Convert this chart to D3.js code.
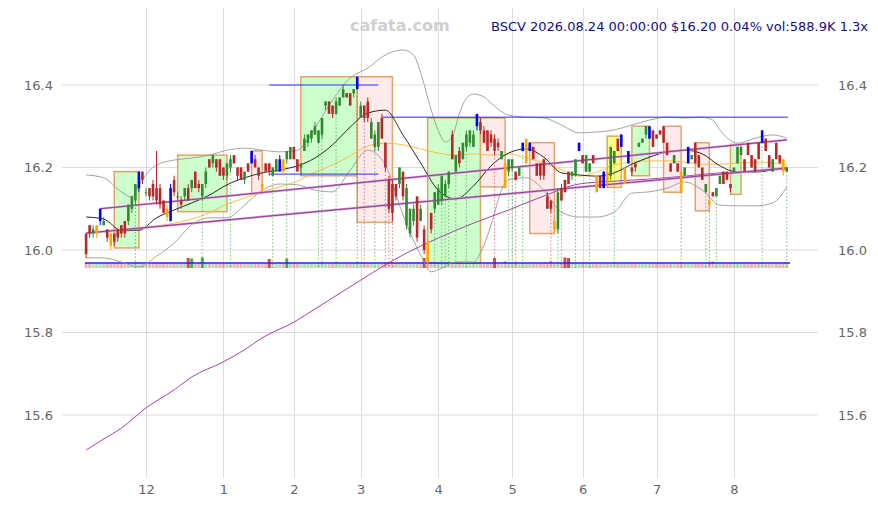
<!DOCTYPE html>
<html><head><meta charset="utf-8">
<script src="https://cdn.jsdelivr.net/npm/d3@7"></script>
<style>body{margin:0;background:#fff}svg{display:block}</style>
</head><body><svg id="c" width="878" height="505"></svg>
<script>
// ---- DATA ----
const open = [16.04,16.06,16.04,16.04,16.07,16.06,16.05,16.04,16.04,16.05,16.06,16.07,16.07,16.10,16.12,16.15,16.19,16.14,16.15,16.16,
16.15,16.15,16.12,16.10,16.07,16.17,16.13,16.12,16.13,16.15,16.15,16.19,16.16,16.13,16.16,16.22,16.21,16.22,16.22,16.20,
16.18,16.20,16.23,16.20,16.20,16.17,16.21,16.21,16.22,16.20,16.16,16.21,16.21,16.18,16.19,16.19,16.22,16.22,16.22,16.25,
16.22,16.20,16.24,16.26,16.27,16.28,16.26,16.28,16.35,16.36,16.35,16.33,16.35,16.37,16.38,16.38,16.38,16.39,16.32,16.35,
16.36,16.27,16.25,16.25,16.32,16.26,16.17,16.16,16.16,16.16,16.19,16.06,16.04,16.07,16.13,16.07,16.05,16.02,16.09,16.10,
16.11,16.12,16.13,16.16,16.28,16.19,16.24,16.22,16.25,16.26,16.25,16.30,16.31,16.29,16.29,16.28,16.27,16.26,16.22,16.21,
16.19,16.20,16.19,16.18,16.24,16.27,16.24,16.25,16.21,16.21,16.22,16.13,16.12,16.07,16.05,16.15,16.17,16.19,16.18,16.18,
16.24,16.23,16.19,16.19,16.23,16.18,16.18,16.15,16.19,16.18,16.21,16.27,16.25,16.20,16.21,16.20,16.21,16.25,16.26,16.28,
16.27,16.29,16.28,16.29,16.30,16.26,16.21,16.21,16.21,16.19,16.18,16.21,16.22,16.26,16.23,16.20,16.14,16.12,16.14,16.13,
16.16,16.19,16.19,16.16,16.19,16.21,16.23,16.22,16.26,16.23,16.22,16.26,16.26,16.27,16.23,16.19,16.26,16.23,16.22,16.19];
const high = [16.04,16.06,16.06,16.06,16.10,16.08,16.05,16.04,16.04,16.05,16.06,16.07,16.11,16.13,16.16,16.19,16.19,16.15,16.15,16.17,
16.24,16.16,16.12,16.11,16.16,16.18,16.14,16.13,16.15,16.16,16.17,16.19,16.17,16.16,16.20,16.22,16.23,16.22,16.22,16.20,
16.21,16.23,16.23,16.20,16.20,16.19,16.21,16.24,16.23,16.20,16.16,16.21,16.21,16.20,16.22,16.23,16.22,16.24,16.25,16.25,
16.22,16.21,16.28,16.28,16.29,16.31,16.29,16.32,16.36,16.36,16.35,16.37,16.37,16.40,16.38,16.38,16.39,16.42,16.36,16.35,
16.37,16.32,16.29,16.31,16.33,16.26,16.18,16.17,16.16,16.20,16.19,16.16,16.10,16.11,16.13,16.11,16.06,16.02,16.09,16.14,
16.16,16.18,16.17,16.19,16.29,16.23,16.25,16.26,16.29,16.29,16.29,16.33,16.32,16.30,16.29,16.29,16.28,16.27,16.24,16.22,
16.22,16.22,16.19,16.20,16.26,16.27,16.26,16.25,16.21,16.21,16.22,16.14,16.12,16.07,16.15,16.16,16.17,16.19,16.19,16.22,
16.26,16.23,16.23,16.21,16.23,16.18,16.18,16.19,16.19,16.25,16.24,16.27,16.28,16.20,16.24,16.20,16.21,16.26,16.27,16.30,
16.30,16.29,16.28,16.29,16.30,16.26,16.21,16.23,16.21,16.19,16.20,16.25,16.23,16.26,16.23,16.20,16.16,16.12,16.14,16.15,
16.18,16.19,16.19,16.16,16.20,16.25,16.25,16.22,16.26,16.23,16.22,16.26,16.29,16.27,16.23,16.22,16.26,16.23,16.22,16.20];
const low = [15.98,16.03,16.03,16.03,16.06,16.06,16.02,16.00,16.01,16.02,16.03,16.03,16.06,16.09,16.11,16.14,16.16,16.13,16.12,16.12,
16.11,16.10,16.09,16.07,16.07,16.13,16.12,16.10,16.12,16.12,16.14,16.15,16.14,16.12,16.15,16.20,16.20,16.19,16.18,16.17,
16.17,16.19,16.21,16.17,16.17,16.16,16.19,16.21,16.20,16.17,16.14,16.19,16.18,16.18,16.19,16.19,16.18,16.21,16.22,16.22,
16.19,16.18,16.24,16.25,16.26,16.28,16.26,16.27,16.34,16.33,16.32,16.33,16.35,16.37,16.37,16.35,16.37,16.39,16.32,16.31,
16.31,16.27,16.24,16.24,16.27,16.19,16.09,16.07,16.12,16.15,16.12,16.05,16.03,16.06,16.02,16.07,15.99,15.96,16.04,16.09,
16.11,16.11,16.13,16.15,16.22,16.19,16.20,16.22,16.24,16.25,16.25,16.29,16.28,16.26,16.24,16.25,16.23,16.24,16.22,16.15,
16.18,16.19,16.17,16.18,16.24,16.21,16.24,16.22,16.18,16.17,16.17,16.10,16.09,16.04,16.04,16.12,16.14,16.16,16.17,16.18,
16.24,16.21,16.19,16.19,16.21,16.14,16.15,16.15,16.15,16.17,16.21,16.24,16.25,16.16,16.21,16.18,16.19,16.25,16.26,16.27,
16.27,16.25,16.27,16.28,16.26,16.23,16.19,16.21,16.19,16.14,16.18,16.21,16.22,16.21,16.20,16.17,16.14,16.09,16.13,16.13,
16.16,16.16,16.17,16.14,16.19,16.21,16.23,16.19,16.23,16.20,16.19,16.22,16.26,16.24,16.20,16.19,16.22,16.21,16.18,16.19];
const close = [15.99,16.04,16.05,16.06,16.10,16.07,16.03,16.01,16.02,16.03,16.04,16.04,16.11,16.13,16.16,16.19,16.17,16.14,16.13,16.13,
16.12,16.11,16.09,16.08,16.15,16.14,16.13,16.11,16.15,16.12,16.17,16.15,16.15,16.16,16.19,16.20,16.23,16.20,16.18,16.18,
16.21,16.22,16.21,16.18,16.17,16.19,16.19,16.24,16.20,16.18,16.15,16.19,16.19,16.20,16.22,16.22,16.19,16.24,16.25,16.22,
16.19,16.21,16.27,16.28,16.29,16.30,16.29,16.32,16.36,16.33,16.33,16.36,16.37,16.39,16.37,16.35,16.39,16.42,16.35,16.32,
16.32,16.31,16.28,16.31,16.27,16.20,16.10,16.09,16.13,16.20,16.13,16.15,16.10,16.10,16.03,16.10,16.00,15.97,16.05,16.14,
16.15,16.18,16.16,16.19,16.22,16.23,16.21,16.26,16.28,16.29,16.28,16.33,16.29,16.26,16.24,16.26,16.24,16.25,16.24,16.15,
16.22,16.22,16.17,16.20,16.26,16.21,16.26,16.22,16.18,16.18,16.18,16.10,16.10,16.05,16.14,16.12,16.14,16.16,16.19,16.22,
16.26,16.21,16.23,16.21,16.21,16.14,16.15,16.19,16.16,16.25,16.24,16.24,16.28,16.16,16.24,16.19,16.20,16.26,16.27,16.30,
16.30,16.25,16.27,16.28,16.26,16.23,16.19,16.23,16.19,16.14,16.20,16.25,16.23,16.21,16.20,16.17,16.16,16.11,16.13,16.15,
16.18,16.16,16.17,16.15,16.20,16.25,16.25,16.19,16.23,16.20,16.19,16.22,16.29,16.24,16.20,16.22,16.22,16.21,16.19,16.20];
const volume = [520,430,380,460,500,410,450,390,470,420,480,440,510,460,600,530,420,380,450,470,
490,430,460,520,480,410,390,440,460,1000,950,420,460,1050,500,440,410,450,430,400,
460,560,420,390,450,430,470,480,420,410,440,460,900,520,430,480,450,950,470,430,
440,420,480,450,470,430,560,540,420,440,460,530,450,420,410,460,430,580,470,520,
480,440,560,430,470,600,620,590,450,470,430,480,440,520,470,450,1000,640,460,540,
480,560,520,540,430,560,470,440,520,460,480,440,420,460,430,470,1000,450,430,700,
520,540,560,430,510,440,430,420,450,470,460,440,750,430,520,540,1050,1000,440,520,
430,460,440,540,420,450,470,430,460,480,550,440,430,460,470,420,450,440,430,460,
450,430,420,470,440,460,430,420,450,560,440,430,420,460,450,440,540,560,700,540,
430,450,440,460,420,440,430,450,420,460,440,430,560,450,430,420,460,440,450,540];
const orangeDays = [3,7,23,50,56,97,119,125,133,145,148,153,169,177,198];
const blueDays = [4,15,24,47,55,77,111,124,126,140,147,152,154,160,171,192];
const markedDays = [14,33,41,53,57,66,67,71,77,79,82,85,86,87,99,101,102,103,105,108,116,120,121,122,124,132,134,135,139,143,150,169,176,177,179,192,199];
// [index, value]
const sma20 = [[0,16.080],[5,16.075],[10,16.048],[15,16.048],[20,16.078],[25,16.097],[30,16.114],[35,16.133],[40,16.158],[45,16.175],[50,16.187],[55,16.194],[60,16.204],[65,16.223],[70,16.255],[75,16.298],[80,16.332],[85,16.339],[90,16.279],[95,16.211],[100,16.145],[105,16.124],[110,16.155],[115,16.204],[120,16.235],[125,16.245],[130,16.225],[135,16.187],[140,16.182],[145,16.179],[150,16.187],[155,16.208],[160,16.225],[165,16.238],[170,16.242],[175,16.233],[180,16.204],[185,16.189],[190,16.189],[195,16.194],[199,16.201]];
const sma50 = [[0,16.041],[5,16.044],[10,16.044],[15,16.051],[20,16.058],[25,16.065],[30,16.075],[35,16.090],[40,16.111],[45,16.126],[50,16.141],[55,16.153],[60,16.167],[65,16.189],[70,16.206],[75,16.228],[80,16.252],[85,16.259],[90,16.255],[95,16.245],[100,16.235],[105,16.230],[110,16.233],[115,16.230],[120,16.233],[125,16.223],[130,16.211],[135,16.194],[140,16.179],[145,16.189],[150,16.206],[155,16.213],[160,16.216],[165,16.216],[170,16.213],[175,16.208],[180,16.208],[185,16.211],[190,16.213],[195,16.211],[199,16.206]];
const bbUpper = [[0,16.182],[5,16.175],[10,16.141],[13,16.128],[15,16.158],[20,16.206],[25,16.218],[30,16.223],[35,16.230],[40,16.242],[45,16.247],[50,16.242],[55,16.238],[60,16.242],[65,16.296],[70,16.364],[75,16.417],[80,16.441],[85,16.473],[90,16.485],[93,16.473],[95,16.430],[98,16.340],[100,16.290],[102,16.262],[104,16.275],[106,16.330],[108,16.368],[110,16.378],[113,16.371],[115,16.356],[120,16.327],[125,16.322],[130,16.320],[135,16.303],[140,16.284],[145,16.286],[150,16.291],[155,16.303],[160,16.315],[165,16.322],[170,16.320],[175,16.322],[178,16.315],[180,16.291],[185,16.259],[190,16.271],[195,16.279],[199,16.271]];
const bbLower = [[0,15.981],[5,15.981],[10,15.971],[15,15.959],[20,15.985],[25,16.017],[30,16.061],[35,16.078],[40,16.078],[45,16.109],[50,16.145],[55,16.160],[60,16.158],[65,16.145],[70,16.141],[75,16.194],[80,16.242],[85,16.206],[90,16.085],[95,15.988],[98,15.947],[100,15.952],[105,15.971],[110,15.971],[113,16.012],[115,16.061],[118,16.145],[120,16.170],[125,16.175],[130,16.145],[135,16.092],[140,16.080],[145,16.080],[150,16.092],[155,16.138],[160,16.141],[165,16.150],[170,16.165],[175,16.145],[180,16.109],[185,16.107],[190,16.107],[195,16.114],[199,16.153]];
const sma200 = [[0,15.515],[5,15.542],[10,15.568],[17,15.617],[25,15.661],[30,15.692],[39,15.729],[45,15.758],[50,15.787],[59,15.825],[65,15.857],[70,15.884],[78,15.927],[85,15.964],[90,15.988],[100,16.029],[110,16.065],[120,16.097],[130,16.131],[140,16.160],[150,16.167],[160,16.172],[170,16.179],[180,16.187],[190,16.191],[199,16.196]];
const channelUpper = [[4,16.10],[199,16.267]];
const channelLower = [[0,16.041],[199,16.199]];
// boxes: [startIndex, endIndex, low, high, kind]
const boxes = [[8,15,16.005,16.19,'up'],[26,40,16.093,16.23,'up'],[47,50,16.137,16.24,'down'],[61,77,16.18,16.42,'up'],
[77,87,16.067,16.42,'down'],[97,112,15.968,16.32,'up'],[112,119,16.153,16.32,'down'],[126,133,16.04,16.26,'down'],
[148,152,16.152,16.276,'flat'],[155,160,16.18,16.30,'up'],[164,169,16.14,16.30,'down'],[173,177,16.095,16.26,'down'],[183,186,16.135,16.256,'up']];
// levels: [startIndex, endIndex, price]
const levels = [[52,83,16.40],[52,83,16.184],[84,199.3,16.322]];
const priceTicks = [15.6,15.8,16.0,16.2,16.4];
const monthTickIndex = [17,39,59,78,100,121,141,162,184];
const monthTickLabels = ['12','1','2','3','4','5','6','7','8'];
const titleText = 'BSCV 2026.08.24 00:00:00 $16.20 0.04% vol:588.9K 1.3x';

// ---- DRAW ----
const svg = d3.select('#c');
const x = d3.scaleLinear().domain([0,199]).range([86.1,786.8]);
const y = d3.scaleLinear().domain([15.6,16.4]).range([415,85]);
const vy = d3.scaleLinear().domain([0,1100]).range([268,257]);
const font = 'DejaVu Sans, sans-serif';

// grid
const g = svg.append('g');
g.selectAll('.hg').data(priceTicks).join('line')
 .attr('x1',62).attr('x2',818).attr('y1',d=>y(d)).attr('y2',d=>y(d))
 .attr('stroke','#dcdcdc').attr('stroke-width',1);
g.selectAll('.vg').data(monthTickIndex).join('line')
 .attr('x1',d=>Math.round(x(d))+0.5).attr('x2',d=>Math.round(x(d))+0.5).attr('y1',8).attr('y2',478)
 .attr('stroke','#dcdcdc').attr('stroke-width',1);

// axes labels
const yl = d3.axisLeft(y).tickValues(priceTicks).tickFormat(d3.format('.1f')).tickSize(0);
const yr = d3.axisRight(y).tickValues(priceTicks).tickFormat(d3.format('.1f')).tickSize(0);
const xb = d3.axisBottom(x).tickValues(monthTickIndex).tickFormat((d,i)=>monthTickLabels[i]).tickSize(0);
function styleAxis(sel){sel.select('.domain').remove();sel.selectAll('text').attr('fill','#666').style('font-family',font).style('font-size','13px');}
svg.append('g').attr('transform','translate(56,0)').call(yl).call(styleAxis);
svg.append('g').attr('transform','translate(835,0)').call(yr).call(styleAxis);
svg.append('g').attr('transform','translate(0,482)').call(xb).call(styleAxis);

// boxes
const boxFill = {up:'#ccffcc',down:'#fdeaea',flat:'#ffff88'};
svg.append('g').selectAll('rect').data(boxes).join('rect')
 .attr('x',d=>x(d[0])).attr('width',d=>x(d[1])-x(d[0]))
 .attr('y',d=>y(d[3])).attr('height',d=>y(d[2])-y(d[3]))
 .attr('fill',d=>boxFill[d[4]]).attr('stroke','#e3a46a').attr('stroke-width',1.5);

// volume
const avgVol = d3.mean(volume);
const bw = 3.0;
svg.append('g').selectAll('rect').data(volume).join('rect')
 .attr('x',(d,i)=>x(i)-bw/2).attr('width',bw)
 .attr('y',d=>vy(d)).attr('height',d=>vy(0)-vy(d))
 .attr('fill',(d,i)=>close[i]>=open[i]?'#2e9a2e':'#c03030')
 .attr('opacity',d=>d>avgVol*1.6?0.85:0.35);
svg.append('line').attr('x1',85).attr('x2',790).attr('y1',vy(avgVol)).attr('y2',vy(avgVol))
 .attr('stroke','#2020ff').attr('stroke-width',1.5);

// indicator lines
const lineGen = d3.line().x(d=>x(d[0])).y(d=>y(d[1])).curve(d3.curveMonotoneX);
function drawLine(data,color,w){svg.append('path').attr('d',lineGen(data)).attr('fill','none').attr('stroke',color).attr('stroke-width',w);}
drawLine(bbUpper,'#999',0.9);
drawLine(bbLower,'#999',0.9);
drawLine(sma50,'#ffb52e',0.9);
drawLine(sma20,'#111',0.9);
drawLine(sma200,'#9a2f9a',0.9);
const straight = d3.line().x(d=>x(d[0])).y(d=>y(d[1]));
[channelUpper,channelLower].forEach(c=>{
 svg.append('path').attr('d',straight(c)).attr('fill','none').attr('stroke','#c99ad0').attr('stroke-width',2.2);
 svg.append('path').attr('d',straight(c)).attr('fill','none').attr('stroke','#9a3a9a').attr('stroke-width',1);
});

// levels
svg.append('g').selectAll('line').data(levels).join('line')
 .attr('x1',d=>x(d[0])).attr('x2',d=>x(d[1])).attr('y1',d=>y(d[2])).attr('y2',d=>y(d[2]))
 .attr('stroke','#2a2aff').attr('stroke-width',1);

// dotted markers
svg.append('g').selectAll('line').data(markedDays).join('line')
 .attr('x1',i=>x(i)).attr('x2',i=>x(i)).attr('y1',i=>y(Math.min(open[i],close[i]))).attr('y2',268)
 .attr('stroke',i=>close[i]>=open[i]?'#3a9a3a':'#c04040').attr('stroke-width',0.8)
 .attr('stroke-dasharray','1.5,2').attr('opacity',0.8);

// candles
function candleColor(i){
 if(blueDays.includes(i)) return '#0000ff';
 if(orangeDays.includes(i)) return '#ffa500';
 return close[i]>=open[i]?'#2e8b2e':'#b82828';
}
const cg = svg.append('g');
const idx = d3.range(close.length);
cg.selectAll('.w').data(idx).join('line')
 .attr('x1',i=>x(i)).attr('x2',i=>x(i)).attr('y1',i=>y(high[i])).attr('y2',i=>y(low[i]))
 .attr('stroke',i=>candleColor(i)).attr('stroke-width',1);
const cw = 2.6;
cg.selectAll('.b').data(idx).join('rect')
 .attr('x',i=>x(i)-cw/2).attr('width',cw)
 .attr('y',i=>y(Math.max(open[i],close[i])))
 .attr('height',i=>Math.max(1,Math.abs(y(open[i])-y(close[i]))))
 .attr('fill',i=>candleColor(i));

// texts
svg.append('text').attr('x',350).attr('y',31).text('cafata.com')
 .attr('fill','#d0d0d0').style('font-family',font).style('font-size','16px').style('font-weight','bold');
svg.append('text').attr('x',868).attr('y',31).attr('text-anchor','end').text(titleText)
 .attr('fill','#10108a').style('font-family',font).style('font-size','13px');
</script></body></html>
